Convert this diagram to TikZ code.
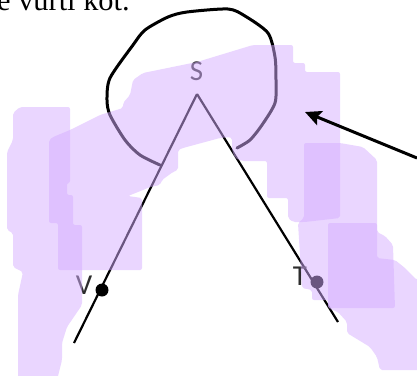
\documentclass[tikz,border=0pt]{standalone}
\usepackage{fontspec}
\setmainfont{Liberation Serif}
\newfontfamily\lblfont{Carlito}
\usetikzlibrary{arrows.meta}
\definecolor{hl}{RGB}{213,173,255}
\definecolor{ink}{RGB}{45,45,45}
\begin{document}
\begin{tikzpicture}[x=1bp,y=-1bp,
  stroke/.style={draw=black,line width=2.2bp},
  loopline/.style={draw=black,line width=3bp,line join=round,line cap=round},
  dotnode/.style={circle,fill=black,inner sep=0pt,minimum size=13bp},
  lbl/.style={text=ink,inner sep=0pt,font=\lblfont\fontsize{29}{32}\selectfont},
  hlmark/.style={fill=hl,fill opacity=0.5,draw=none,rounded corners=2bp},
  pointer/.style={draw=black,line width=3bp,-{Stealth[length=16bp,width=15bp,inset=3bp]}}]
\useasboundingbox (0,0) rectangle (417,376);
\begin{scope}
\clip (0,0) rectangle (417,376);
% header text
\node[anchor=base west,inner sep=0pt,font=\fontsize{30.5}{33}\selectfont] (hdr) at (-3,10) {e vurti kot.};
% coordinates
\coordinate (apex) at (197,94);
\coordinate (lend) at (74,343);
\coordinate (rend) at (338,322);
\draw[stroke] (apex) -- (lend);
\draw[stroke] (apex) -- (rend);
% loop
\draw[loopline] plot[smooth,tension=0.45] coordinates {(237,148) (250,140) (262,125) (275,103) (276,80) (275,57) (268,33) (245,16) (228,9) (187,12) (168,17) (145,30) (133,45) (110,78) (107,100) (110,115) (125,140) (140,155) (160,165)};
% dots and labels
\node[dotnode] (V) at (102,290) {};
\node[dotnode] (T) at (317,282) {};
\node[lbl] (Slbl) at (196.5,71) {S};
\node[lbl] (Vlbl) at (84,285) {V};
\node[lbl] (Tlbl) at (300,276) {T};
% highlights
\fill[hlmark] (13,113) -- (20,107) -- (70,107) -- (70,183) -- (67,183) -- (67,195) -- (73,195) -- (73,225) -- (82,225) -- (82,305) -- (67,327) -- (62,343) -- (62,360) -- (57,380) -- (18,380) -- (18,295) -- (23,272) -- (13,267) -- (13,233) -- (7,230) -- (7,152) -- (13,140) -- cycle;
\fill[hlmark] (49,140) -- (53,137) -- (70,130) -- (100,115) -- (123,108) -- (123,103) -- (130,95) -- (133,80) -- (143,73) -- (197,62) -- (253,45) -- (293,45) -- (293,63) -- (305,63) -- (305,72) -- (340,72) -- (340,218) -- (305,222) -- (293,222) -- (288,218) -- (288,198) -- (267,198) -- (267,161) -- (242,161) -- (235,158) -- (232,150) -- (232,138) -- (230,137) -- (220,138) -- (183,148) -- (178,150) -- (178,170) -- (173,172) -- (162,180) -- (160,185) -- (150,187) -- (143,190) -- (128,196) -- (142,198) -- (142,270) -- (58,270) -- (58,223) -- (49,223) -- cycle;
\fill[hlmark] (304,143) -- (340,143) -- (363,147) -- (377,160) -- (377,232) -- (385,236) -- (393,245) -- (395,308) -- (328,308) -- (328,300) -- (312,300) -- (312,290) -- (302,288) -- (298,223) -- (304,218) -- cycle;
\fill[hlmark] (328,223) -- (377,223) -- (377,258) -- (395,260) -- (405,268) -- (417,280) -- (420,280) -- (420,370) -- (380,370) -- (377,357) -- (370,347) -- (347,333) -- (347,322) -- (338,312) -- (328,308) -- cycle;
% arrow
\coordinate (atail) at (417,158);
\coordinate (atip) at (305,112);
\draw[pointer] (atail) -- (atip);
\end{scope}
\end{tikzpicture}
\end{document}
